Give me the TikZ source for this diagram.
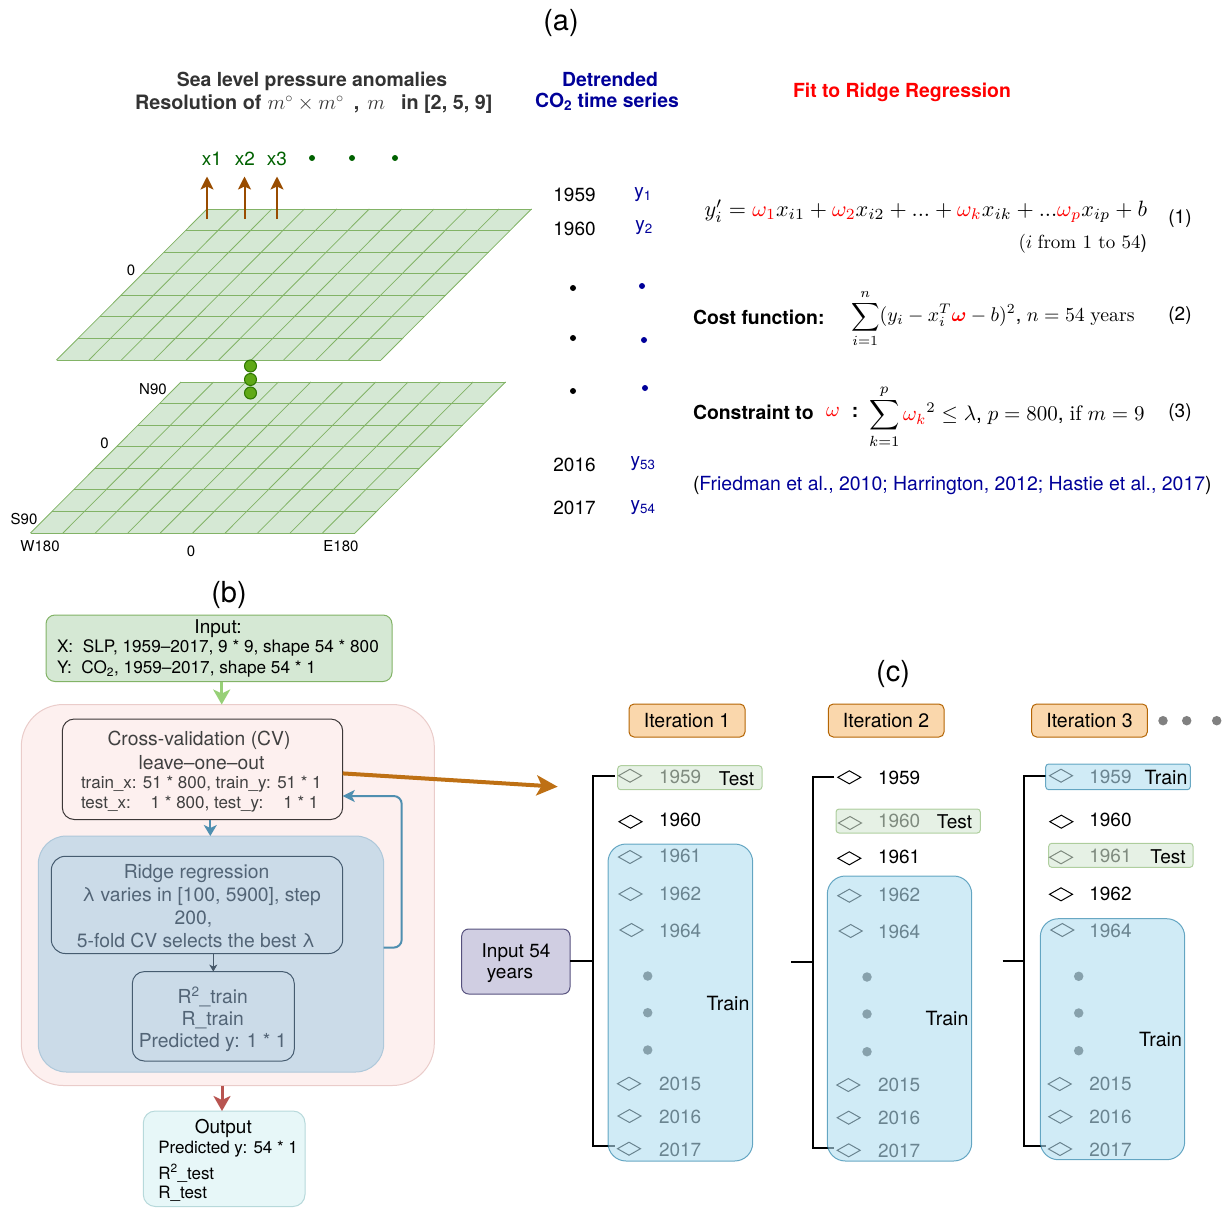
\documentclass[tikz,border=0pt]{standalone}
\usepackage{amsmath}
\usepackage{fontspec}
\setmainfont{TeX Gyre Heros}
\newfontfamily\cmr{Latin Modern Roman}
\usetikzlibrary{arrows.meta,shapes.geometric,calc}
\definecolor{navy}{HTML}{000099}
\definecolor{dgreen}{HTML}{006100}
\definecolor{gridg}{HTML}{82B366}
\definecolor{gridf}{HTML}{D5E8D4}
\definecolor{tealb}{HTML}{10739E}
\definecolor{trainf}{HTML}{B1DDF0}
\definecolor{brownc}{HTML}{994C00}
\definecolor{iterf}{HTML}{FAD7AC}
\definecolor{iterd}{HTML}{B46504}
\definecolor{greyd}{HTML}{808080}
\definecolor{listd}{HTML}{484848}
\definecolor{ballf}{HTML}{60A917}
\definecolor{balld}{HTML}{2D7600}
\definecolor{pinkf}{HTML}{FDF0EF}
\definecolor{pinkd}{HTML}{EACCCA}
\definecolor{cvd}{HTML}{3C3737}
\definecolor{bluf}{HTML}{CBDBE8}
\definecolor{blud}{HTML}{AEC8DA}
\definecolor{ridd}{HTML}{465C70}
\definecolor{ridt}{HTML}{526476}
\definecolor{outf}{HTML}{E7F7F8}
\definecolor{outd}{HTML}{B7D9DB}
\definecolor{arrg}{HTML}{97D077}
\definecolor{arrr}{HTML}{B85450}
\definecolor{arrb}{HTML}{4F8FB0}
\definecolor{arrd}{HTML}{465869}
\definecolor{arro}{HTML}{BE7014}
\definecolor{inbf}{HTML}{D0CEE2}
\definecolor{inbd}{HTML}{56517E}
\newcommand{\fs}[1]{\fontsize{#1}{#1}\selectfont}
\newcommand{\rd}[1]{\textcolor{red}{#1}}
\newcommand{\rmt}[1]{\text{\cmr #1}}
\tikzset{
 lbl/.style={inner sep=0pt,outer sep=0pt,yshift=-1.2pt},
 ll/.style={lbl,anchor=west},
 boxb/.style={draw,inner sep=0pt,outer sep=0pt},
 trainbox/.style={boxb,fill=trainf,draw=tealb,opacity=.6,rounded corners=18pt,line width=1pt},
 testbar/.style={boxb,fill=gridf,draw=gridg,opacity=.6,rounded corners=3pt,line width=1pt},
 blueb/.style={boxb,fill=trainf,draw=tealb,opacity=.6,rounded corners=3pt,line width=1pt},
 iter/.style={boxb,fill=iterf,draw=iterd,rounded corners=5pt,line width=1pt,font=\fs{19.5}},
 dia/.style={diamond,draw=black,line width=1pt,inner sep=0pt,outer sep=0pt,minimum width=23pt,minimum height=13pt,shape aspect=1.77},
 greydot/.style={circle,inner sep=0pt,outer sep=0pt,minimum size=9.5pt,fill=greyd},
 listdot/.style={circle,inner sep=0pt,outer sep=0pt,minimum size=9.5pt,fill=listd},
 tree/.style={line width=2pt,line cap=butt},
 yr/.style={ll,yshift=.8pt,font=\fs{19}},
 small/.style={lbl,font=\fs{15}},
 ann/.style={lbl,font=\fs{19}},
 head/.style={lbl,font=\bfseries\fs{19.4}},
 tag/.style={lbl,font=\fs{19}},
 tagb/.style={lbl,yshift=.6pt,font=\fs{19.6}},
}
\newcommand{\bx}[7]{\node (#1) [#6,minimum width={#4-#2},minimum height={#5-#3}] at ({(#2+#4)/2},{(#3+#5)/2}) {#7};}
\newcommand{\grid}[2]{%
 \fill[gridf] (#1,#2)--++(324.5,0)--++(-150.5,151)--++(-324.5,0)--cycle;
 \foreach \i in {0,...,7} \draw[gridg,line width=1pt] ({#1-\i*150.5/7},{#2+\i*151/7})--++(324.5,0);
 \foreach \i in {0,...,10} \draw[gridg,line width=.8pt] ({#1+\i*32.45},#2)--++(-150.5,151);
}
\begin{document}
\begin{tikzpicture}[x=1pt,y=-1pt]
\useasboundingbox (0,0) rectangle (1223,1207);
% ---------- panel labels
\node (la) [lbl,font=\fs{29}] at (561,22) {(a)};
\node (lb) [lbl,font=\fs{29}] at (229,594) {(b)};
\node (lc) [lbl,font=\fs{29}] at (893,673) {(c)};
% ---------- panel a headings
\node (h1) [head,text=black!80] at (312,80) {Sea level pressure anomalies};
\node (h2) [head,anchor=west,text=black!80,font=\bfseries\fs{19.8}] at (135,103) {Resolution of\hspace{6pt}$m^\circ\times m^\circ$\hspace{10pt},\hspace{8pt}$m$\hspace{16pt}in [2, 5, 9]};
\node (h3) [head,text=navy] at (610,78) {Detrended};
\node (h4) [head,text=navy] at (607,101) {CO\textsubscript{2} time series};
\node (h5) [head,text=red] at (902,91) {Fit to Ridge Regression};
% ---------- grids
\grid{181}{382}
\grid{207}{209}
\foreach \n/\y in {g1/366,g2/379.5,g3/393}
  \node (\n) [circle,inner sep=0pt,minimum size=12pt,fill=ballf,draw=balld,line width=1pt] at (250.5,\y) {};
\foreach \n/\x/\t in {x1/212/x1,x2/245/x2,x3/277/x3}
  \node (\n) [ann,text=dgreen] at (\x,158) {\t};
\foreach \n/\x in {xd1/312,xd2/352,xd3/395}
  \node (\n) [circle,inner sep=0pt,minimum size=6pt,fill=dgreen] at (\x,158) {};
\foreach \n/\x in {a1/207,a2/244.5,a3/277}{
  \coordinate (\n b) at (\x,219);
  \coordinate (\n t) at (\x,176.5);
  \draw[brownc,line width=2pt,-{Stealth[length=13pt,width=13pt,inset=3pt]}] (\n b)--(\n t);
}
\node (z1) [small] at (131,269.5) {0};
\node (n90) [small] at (153,388) {N90};
\node (z2) [small] at (104.5,442) {0};
\node (s90) [small] at (24,518) {S90};
\node (w180) [small] at (40,545) {W180};
\node (z3) [small] at (191,550) {0};
\node (e180) [small] at (341,545) {E180};
% ---------- years / y
\foreach \n/\y/\t in {y59/194/1959,y60/228/1960,y16/464/2016,y17/507/2017}
  \node (\n) [ann] at (574.5,\y) {\t};
\foreach \n/\y in {yd1/288,yd2/338,yd3/391}
  \node (\n) [circle,inner sep=0pt,minimum size=6pt,fill=black] at (573,\y) {};
\foreach \n/\x/\y/\t in {v1/643/193/1,v2/644/226/2,v53/643/462/53,v54/643/506/54}
  \node (\n) [ann,text=navy] at (\x,\y) {y\textsubscript{\t}};
\foreach \n/\x/\y in {vd1/642/286,vd2/644/340,vd3/645/388}
  \node (\n) [circle,inner sep=0pt,minimum size=6pt,fill=navy] at (\x,\y) {};
% ---------- equations
\node (eq1) [lbl,anchor=east,scale=2.215] at (1147,210) {$y'_i=\rd{\omega_1}x_{i1}+\rd{\omega_2}x_{i2}+...+\rd{\omega_k}x_{ik}+...\rd{\omega_p}x_{ip}+b$};
\node (eq1b) [lbl,anchor=east,scale=1.9] at (1147,243) {$(i$ \rmt{from 1 to 54})};
\node (n1) [ann] at (1180,217) {(1)};
\node (cf) [head,anchor=west] at (693,316) {Cost function:};
\node (eq2) [lbl,anchor=west,scale=1.98] at (851,317) {$\displaystyle\sum_{i=1}^{n}(y_i-x_i^T\rd{\boldsymbol{\omega}}-b)^2$, $n=54$ \rmt{years}};
\node (n2) [ann] at (1180,314) {(2)};
\node (cs) [head,anchor=west] at (693,411) {Constraint to};
\node (om) [lbl,scale=2.1,text=red] at (833,411) {$\omega$};
\node (col) [head] at (855,411) {:};
\node (eq3) [lbl,anchor=west,scale=2.1] at (869,415.5) {$\displaystyle\sum_{k=1}^{p}\rd{\omega_k}{}^2\le\lambda$, $p=800$, \rmt{if} $m=9$};
\node (n3) [ann] at (1180,411) {(3)};
\node (cite) [lbl,anchor=west,font=\fs{19.45}] at (693,484) {(\textcolor{navy}{Friedman et al., 2010; Harrington, 2012; Hastie et al., 2017})};
% ---------- panel b
\bx{inp}{46}{615}{392}{681.5}{boxb,fill=gridf,draw=gridg,rounded corners=9pt,line width=1pt}{}
\node (i1) [lbl,font=\fs{19}] at (218,627) {Input:};
\node (i2) [ll,font=\fs{17.2}] at (57,647) {X:\ \ SLP, 1959--2017, 9 * 9, shape 54 * 800};
\node (i3) [ll,font=\fs{17.2}] at (57,668) {Y:\ \ CO\textsubscript{2}, 1959--2017, shape 54 * 1};
\bx{pink}{21.3}{704.5}{434.3}{1085.5}{boxb,fill=pinkf,draw=pinkd,rounded corners=42pt,line width=1pt}{}
\bx{cv}{62.3}{719}{342.7}{819.5}{boxb,draw=cvd,rounded corners=12pt,line width=1pt}{}
\node (c1) [lbl,font=\fs{19.3},text=black!75] at (199,739.5) {Cross-validation (CV)};
\node (c2) [lbl,font=\fs{19.3},text=black!75] at (201.5,761) {leave--one--out};
\node (c3) [ll,font=\fs{17},text=black!75] at (81,782.5) {train\_x: 51 * 800, train\_y: 51 * 1};
\node (c4) [ll,font=\fs{17},text=black!75] at (81,802.5) {test\_x:\hspace{20pt}1 * 800, test\_y:\hspace{20pt}1 * 1};
\bx{blu}{38.3}{836}{383.7}{1072}{boxb,fill=bluf,draw=blud,rounded corners=28pt,line width=1pt}{}
\bx{rid}{51.3}{856.3}{342.7}{953.5}{boxb,draw=ridd,rounded corners=14pt,line width=1pt}{}
\foreach \n/\x/\y/\t in {r1/196.5/872/Ridge regression,r2/201.5/895/{λ varies in [100, 5900], step},r3/193.5/917.5/{200,},r4/196/939.5/5-fold CV selects the best λ}
  \node (\n) [lbl,font=\fs{19.3},text=ridt] at (\x,\y) {\t};
\bx{res}{132.3}{971.6}{294.3}{1061}{boxb,draw=ridd,rounded corners=12pt,line width=1pt}{}
\foreach \n/\y/\t in {s1/995.7/R\textsuperscript{2}\_train,s2/1018.5/R\_train,s3/1041.3/Predicted y: 1 * 1}
  \node (\n) [lbl,font=\fs{19.3},text=ridt] at (212.7,\y) {\t};
\bx{out}{143.3}{1111}{305}{1206.5}{boxb,fill=outf,draw=outd,rounded corners=12pt,line width=1pt}{}
\node (o1) [lbl,font=\fs{19}] at (223.3,1127.3) {Output};
\node (o2) [ll,font=\fs{17}] at (158.3,1148) {Predicted y: 54 * 1};
\node (o3) [ll,font=\fs{17}] at (158.3,1172) {R\textsuperscript{2}\_test};
\node (o4) [ll,font=\fs{17}] at (158.3,1192.3) {R\_test};
% connectors b
\draw[arrg,line width=3pt,-{Stealth[length=15pt,width=17pt,inset=4pt]}] (221.7,0 |- inp.south)--(221.7,0 |- pink.north);
\draw[arrr,line width=3pt,-{Stealth[length=15pt,width=17pt,inset=4pt]}] (222,0 |- pink.south)--(222,0 |- out.north);
\draw[arrb,line width=2pt,-{Stealth[length=11pt,width=13pt,inset=3pt]}] (210.3,0 |- cv.south)--(210.3,0 |- blu.north);
\draw[arrd,line width=1pt,-{Stealth[length=7pt,width=8pt,inset=2pt]}] (213.3,0 |- rid.south)--(213.3,0 |- res.north);
\draw[arrb,line width=2pt,rounded corners=8pt,-{Stealth[length=12pt,width=12pt,inset=3pt]}] (blu.east |- 0,947.6)--(401.7,947.6)--(401.7,796)--(cv.east |- 0,796);
\coordinate (orangeend) at (557.7,786.7);
\draw[arro,line width=4pt,-{Stealth[length=21pt,width=20pt,inset=5pt]}] (cv.east |- 0,773.4)--(orangeend);
% ---------- panel c
\bx{ib}{461.7}{929}{570}{994}{boxb,fill=inbf,draw=inbd,rounded corners=7pt,line width=1pt}{}
\node (ib1) [lbl,font=\fs{19}] at (516,951) {Input 54};
\node (ib2) [lbl,font=\fs{19}] at (510,974.5) {years};
\bx{it1}{629}{704}{745}{737}{iter}{Iteration 1}
\bx{it2}{828.3}{704}{944}{737}{iter}{Iteration 2}
\bx{it3}{1031.7}{704}{1147.3}{737}{iter}{Iteration 3}
\foreach \n/\x in {idot1/1163,idot2/1186.7,idot3/1216.7} \node (\n) [greydot] at (\x,720.7) {};
% column 1
\foreach \n/\dx/\dy/\ty/\t in {a59/630/775.7/776/1959,a60/630.5/821.7/819/1960,a61/630/857/855.7/1961,a62/630.5/894/893/1962,a64/631.5/930/930/1964,a15/629/1083.7/1083/2015,a16/629.5/1116/1116.7/2016,a17/629/1148.7/1149/2017}{
  \node (\n) [dia] at (\dx,\dy) {};
  \node (\n t) [yr] at (659,\ty) {\t};
}
\foreach \n/\y in {ad1/976,ad2/1012.7,ad3/1050} \node (\n) [listdot] at (647.7,\y) {};
\coordinate (ctop1) at (615,775.7); \coordinate (cbot1) at (615,1146);
\draw[tree] (ctop1)-|(593.3,1146)--(cbot1);
\draw[tree] (ib.east |- 0,960.7)--(593.3,960.7);
\bx{t1}{617.7}{765.7}{762}{789.7}{testbar}{}
\bx{tr1}{608}{844}{752.7}{1161}{trainbox}{}
\node (t1t) [tag] at (736.5,778) {Test};
\node (tr1t) [tagb] at (728,1003) {Train};
% column 2
\foreach \n/\dx/\dy/\ty/\t in {b59/849.3/777.3/777/1959,b60/850/823/820/1960,b61/849.3/858.3/856.7/1961,b62/849.3/895.7/894.7/1962,b64/850.7/931/931/1964,b15/848.3/1085/1084/2015,b16/848.7/1117.7/1117.7/2016,b17/848.7/1150.3/1150/2017}{
  \node (\n) [dia] at (\dx,\dy) {};
  \node (\n t) [yr] at (878,\ty) {\t};
}
\foreach \n/\y in {bd1/977,bd2/1014,bd3/1051.7} \node (\n) [listdot] at (867,\y) {};
\coordinate (ctop2) at (834.3,777.3); \coordinate (cbot2) at (834.3,1147.7); \coordinate (cmid2) at (791.3,962.3);
\draw[tree] (ctop2)-|(813,1147.7)--(cbot2);
\draw[tree] (cmid2)--(813,962.3);
\bx{t2}{836}{809}{980.3}{833}{testbar}{}
\bx{tr2}{827.3}{876}{971.7}{1161}{trainbox}{}
\node (t2t) [tag] at (954.5,820.7) {Test};
\node (tr2t) [tagb] at (947,1018) {Train};
% column 3
\foreach \n/\dx/\dy/\ty/\t in {c59/1061/775.7/776/1959,c60/1061.3/821.7/819/1960,c61/1061/857.3/855.7/1961,c62/1061/894.3/893.3/1962,c64/1062.3/930/930/1964,c15/1059.7/1084/1083.3/2015,c16/1060.3/1116.7/1116.7/2016,c17/1060/1149/1149.3/2017}{
  \node (\n) [dia] at (\dx,\dy) {};
  \node (\n t) [yr] at (1089.3,\ty) {\t};
}
\foreach \n/\y in {cd1/976.3,cd2/1013,cd3/1050.7} \node (\n) [listdot] at (1078.7,\y) {};
\coordinate (ctop3) at (1045.7,776); \coordinate (cbot3) at (1045.7,1146); \coordinate (cmid3) at (1002.7,961.3);
\draw[tree] (ctop3)-|(1024.3,1146)--(cbot3);
\draw[tree] (cmid3)--(1024.3,961.3);
\bx{t3a}{1045.7}{764}{1190.3}{789.7}{blueb}{}
\bx{t3}{1048.7}{843.3}{1193}{867.3}{testbar}{}
\bx{tr3}{1040.3}{918.7}{1184.7}{1159.7}{trainbox}{}
\node (t3at) [tagb] at (1166,777.3) {Train};
\node (t3t) [tag] at (1168,855.7) {Test};
\node (tr3t) [tagb] at (1160.5,1039.3) {Train};
\end{tikzpicture}
\end{document}
